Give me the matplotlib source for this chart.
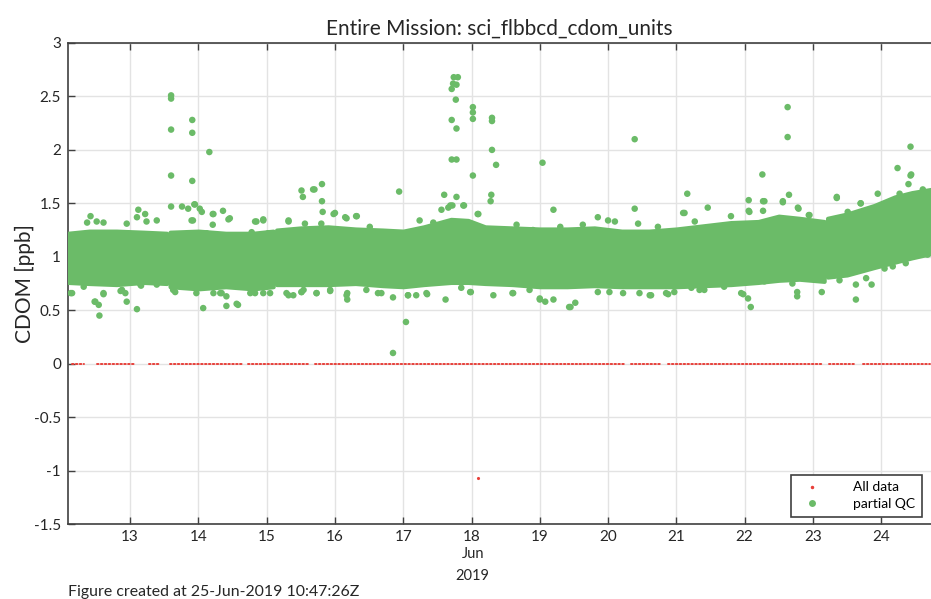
import numpy as np
import matplotlib
matplotlib.use("Agg")
import matplotlib.pyplot as plt
from matplotlib.lines import Line2D

plt.rcParams['font.family'] = ['Lato', 'DejaVu Sans']

# core of the dense CDOM cloud: (day of June 2019, lower edge, upper edge)
band_days = [12.09, 12.4, 12.8, 13.2, 13.535,
             13.585, 14.0, 14.4, 14.8, 15.095,
             15.145, 15.5, 15.9, 16.3, 16.7, 17.0, 17.3, 17.7, 17.95, 18.2, 18.6,
             19.0, 19.4, 19.8, 20.2, 20.6, 21.0, 21.4, 21.8, 22.2, 22.5, 22.8, 23.165,
             23.215, 23.5, 23.9, 24.2, 24.45, 24.73]
band_lo = [0.76, 0.75, 0.74, 0.76, 0.75,
           0.72, 0.70, 0.72, 0.70, 0.72,
           0.74, 0.74, 0.74, 0.75, 0.73, 0.72, 0.74, 0.76, 0.76, 0.75, 0.74,
           0.72, 0.72, 0.73, 0.72, 0.72, 0.72, 0.73, 0.74, 0.76, 0.78, 0.79, 0.77,
           0.81, 0.83, 0.90, 0.95, 0.99, 1.03]
band_hi = [1.22, 1.24, 1.24, 1.23, 1.22,
           1.23, 1.24, 1.22, 1.22, 1.24,
           1.25, 1.27, 1.28, 1.26, 1.25, 1.24, 1.28, 1.35, 1.34, 1.28, 1.27,
           1.26, 1.26, 1.27, 1.24, 1.24, 1.26, 1.29, 1.32, 1.33, 1.38, 1.36, 1.33,
           1.36, 1.40, 1.48, 1.56, 1.60, 1.63]
band_gaps = [13.56, 15.12, 23.19]

# scattered points outside the core
qc_days = [13.60, 13.60, 13.60, 13.60, 13.60, 13.91, 13.91, 13.91, 14.16, 13.76,
           13.85, 13.94, 14.02, 14.05, 14.22, 14.36, 13.90, 14.46, 12.42, 13.12,
           13.22, 13.10, 15.51, 15.53, 15.68, 15.32, 14.95, 14.83,
           12.13, 12.48, 12.54, 12.55, 12.61, 12.86, 12.93, 12.95, 13.10, 13.15,
           13.63, 14.07, 14.22, 14.41, 14.41, 14.58, 14.34, 14.76, 14.95, 15.29,
           15.39, 15.54,
           17.74, 17.80, 17.73, 17.78, 17.71, 17.77, 17.71, 17.78, 18.02, 18.02,
           18.02, 18.30, 18.30, 18.30, 18.36, 18.02, 17.71, 17.78, 19.04, 16.94,
           17.60, 17.78, 18.29, 18.28, 17.56, 17.66, 17.72, 17.89, 18.09, 19.20,
           15.81, 15.70, 15.81, 15.82, 15.98, 16.17, 16.31, 19.85, 20.00,
           17.04, 17.62, 16.18, 16.18, 16.63, 17.07, 17.35, 17.99, 18.32, 18.60,
           19.00, 19.08, 19.43, 19.52, 15.93, 15.73, 15.51, 16.85,
           20.39, 22.63, 22.63, 24.43, 24.24, 24.43, 24.40, 22.26, 21.16, 20.39,
           21.46, 22.06, 22.06, 22.27, 22.27, 22.65, 22.56, 22.78, 23.35, 23.70,
           21.10, 22.94, 23.95,
           22.09, 22.05, 21.98, 22.77, 23.13, 23.63, 23.63, 23.86, 20.02, 20.61,
           20.88, 20.46, 21.34, 24.36, 24.17, 24.68, 23.78]
qc_vals = [2.51, 2.48, 2.19, 1.76, 1.47, 2.28, 2.16, 1.71, 1.98, 1.47,
           1.45, 1.49, 1.45, 1.42, 1.40, 1.43, 1.34, 1.36, 1.38, 1.44,
           1.40, 1.37, 1.62, 1.56, 1.63, 1.34, 1.35, 1.33,
           0.66, 0.58, 0.55, 0.45, 0.66, 0.68, 0.66, 0.58, 0.51, 0.74,
           0.69, 0.52, 0.66, 0.63, 0.54, 0.55, 0.66, 0.66, 0.66, 0.66,
           0.64, 0.69,
           2.68, 2.68, 2.62, 2.61, 2.57, 2.47, 2.28, 2.20, 2.40, 2.35,
           2.29, 2.30, 2.27, 2.00, 1.86, 1.76, 1.91, 1.91, 1.88, 1.61,
           1.58, 1.56, 1.58, 1.52, 1.44, 1.46, 1.48, 1.48, 1.40, 1.44,
           1.68, 1.63, 1.52, 1.42, 1.40, 1.36, 1.38, 1.37, 1.34,
           0.39, 0.60, 0.66, 0.60, 0.66, 0.64, 0.65, 0.67, 0.64, 0.66,
           0.60, 0.58, 0.53, 0.57, 0.68, 0.66, 0.67, 0.10,
           2.10, 2.40, 2.12, 2.03, 1.83, 1.76, 1.68, 1.77, 1.59, 1.45,
           1.46, 1.53, 1.43, 1.52, 1.43, 1.58, 1.51, 1.46, 1.56, 1.50,
           1.41, 1.39, 1.59,
           0.53, 0.61, 0.65, 0.63, 0.67, 0.60, 0.74, 0.74, 0.67, 0.64,
           0.65, 0.66, 0.69, 0.94, 0.91, 1.02, 0.80]

# points hugging the edges of the core band
edge_days = [12.37, 12.51, 12.61, 12.95, 13.24, 13.39, 13.95, 13.92, 14.21, 14.44,
             14.21, 14.12, 12.15, 12.49, 12.61, 12.88, 13.16, 13.39, 13.66, 13.97,
             14.32, 14.56, 12.32,
             14.85, 14.95, 15.32, 15.56, 15.80, 16.00, 16.15, 16.32, 16.51, 14.78,
             15.02, 14.83, 15.05, 15.32, 15.51, 15.73, 15.93, 16.17, 16.46, 16.68,
             16.85, 17.07,
             17.69, 17.88, 18.10, 17.24, 17.44, 18.66, 18.90, 19.30, 19.63, 17.19,
             17.34, 17.85, 17.98, 18.61, 19.00, 19.20, 19.45, 18.85,
             20.10, 20.44, 21.12, 21.80, 22.07, 21.27, 20.73, 19.85, 20.22, 20.63,
             20.85, 20.97, 21.22, 21.41, 21.70, 21.95,
             22.29, 22.56, 22.79, 22.95, 23.35, 23.51, 23.70, 24.27, 24.61, 22.29,
             22.70, 22.77, 23.39, 24.05, 24.44]
edge_vals = [1.32, 1.33, 1.32, 1.31, 1.33, 1.34, 1.49, 1.34, 1.40, 1.35,
             1.30, 1.22, 0.66, 0.58, 0.65, 0.69, 0.73, 0.74, 0.67, 0.66,
             0.66, 0.56, 0.72,
             1.33, 1.34, 1.33, 1.31, 1.31, 1.41, 1.37, 1.38, 1.28, 1.23,
             1.22, 0.66, 0.66, 0.64, 0.67, 0.66, 0.69, 0.64, 0.69, 0.66,
             0.62, 0.64,
             1.48, 1.48, 1.40, 1.34, 1.32, 1.30, 1.25, 1.28, 1.30, 0.64,
             0.66, 0.71, 0.67, 0.66, 0.61, 0.60, 0.53, 0.69,
             1.33, 1.31, 1.41, 1.38, 1.42, 1.33, 1.28, 0.67, 0.66, 0.64,
             0.66, 0.67, 0.71, 0.69, 0.72, 0.66,
             1.52, 1.52, 1.45, 1.39, 1.55, 1.42, 1.50, 1.59, 1.63, 0.77,
             0.75, 0.67, 0.78, 0.89, 1.77]

# "All data" sits at zero in these stretches, plus one stray point
raw_runs = [(12.15, 12.32), (12.51, 13.07), (13.27, 13.43), (13.59, 14.66),
            (14.73, 15.61), (15.71, 20.24), (20.34, 20.78), (20.88, 23.15),
            (23.24, 23.63), (23.73, 24.72)]
raw_stray_day = [18.09]
raw_stray_val = [-1.07]

green = '#6bbb68'
red = '#e8403a'
axcol = '#404040'
txt = '#262626'

fig = plt.figure(figsize=(9.31, 5.99), dpi=100)
ax = fig.add_axes([68 / 931, 75 / 599, 863 / 931, 481 / 599])

ax.grid(True, color='#e3e3e3', linewidth=1.0)
ax.set_axisbelow(True)

# all data: dotted red runs at zero
for a, b in raw_runs:
    ax.plot([a, b], [0, 0], color=red, linewidth=1.4, linestyle=(0, (0.8, 1.2)),
            dash_capstyle='round', zorder=2)
ax.plot(raw_stray_day, raw_stray_val, '.', color=red, markersize=2.5, zorder=2)

# partial QC: dense band
bd = np.array(band_days)
lo = np.array(band_lo)
hi = np.array(band_hi)
edges = [bd.min() - 1] + band_gaps + [bd.max() + 1]
for a, b in zip(edges[:-1], edges[1:]):
    m = (bd > a) & (bd < b)
    ax.fill_between(bd[m], lo[m], hi[m], facecolor=green, edgecolor=green,
                    linewidth=3.0, joinstyle='round', zorder=3)
ax.scatter(qc_days + edge_days, qc_vals + edge_vals, s=22, color=green,
           edgecolors='none', zorder=3)

ax.set_xlim(12.09, 24.73)
ax.set_ylim(-1.5, 3)
ax.set_xticks(range(13, 25))
ax.set_xticklabels([str(d) for d in range(13, 25)])
ax.set_yticks([-1.5, -1, -0.5, 0, 0.5, 1, 1.5, 2, 2.5, 3])
ax.set_yticklabels(['-1.5', '-1', '-0.5', '0', '0.5', '1', '1.5', '2', '2.5', '3'])
ax.tick_params(direction='in', length=5, width=1, colors=axcol, labelsize=11,
               top=True, right=False, labelcolor=txt)
ax.tick_params(axis='x', pad=4)
ax.tick_params(axis='y', pad=5)
for s in ['left', 'bottom', 'top']:
    ax.spines[s].set_color(axcol)
    ax.spines[s].set_linewidth(1.2)
ax.spines['right'].set_visible(False)

ax.set_title('Entire Mission: sci_flbbcd_cdom_units', fontsize=15, color=txt, pad=6)
ax.set_ylabel('CDOM [ppb]', fontsize=15, color=txt, labelpad=-1)
ax.text(0.469, -0.063, 'Jun', transform=ax.transAxes, ha='center', va='center',
        fontsize=10.5, color=txt)
ax.text(0.469, -0.109, '2019', transform=ax.transAxes, ha='center', va='center',
        fontsize=10.5, color=txt)
fig.text(68 / 931, 0.012, 'Figure created at 25-Jun-2019 10:47:26Z', ha='left',
         va='center', fontsize=11.4, color=txt)

handles = [Line2D([], [], linestyle='none', marker='.', markersize=3, color=red),
           Line2D([], [], linestyle='none', marker='o', markersize=5, color=green,
                  markeredgewidth=0)]
leg = ax.legend(handles, ['All data', 'partial QC'], loc='lower right',
                bbox_to_anchor=(0.99, 0.014), fontsize=10, frameon=True,
                fancybox=False, edgecolor=axcol, framealpha=1, borderpad=0.5,
                handletextpad=2.0, labelspacing=0.35, borderaxespad=0)
leg.get_frame().set_linewidth(1.2)

fig.savefig('out.png', dpi=100)
